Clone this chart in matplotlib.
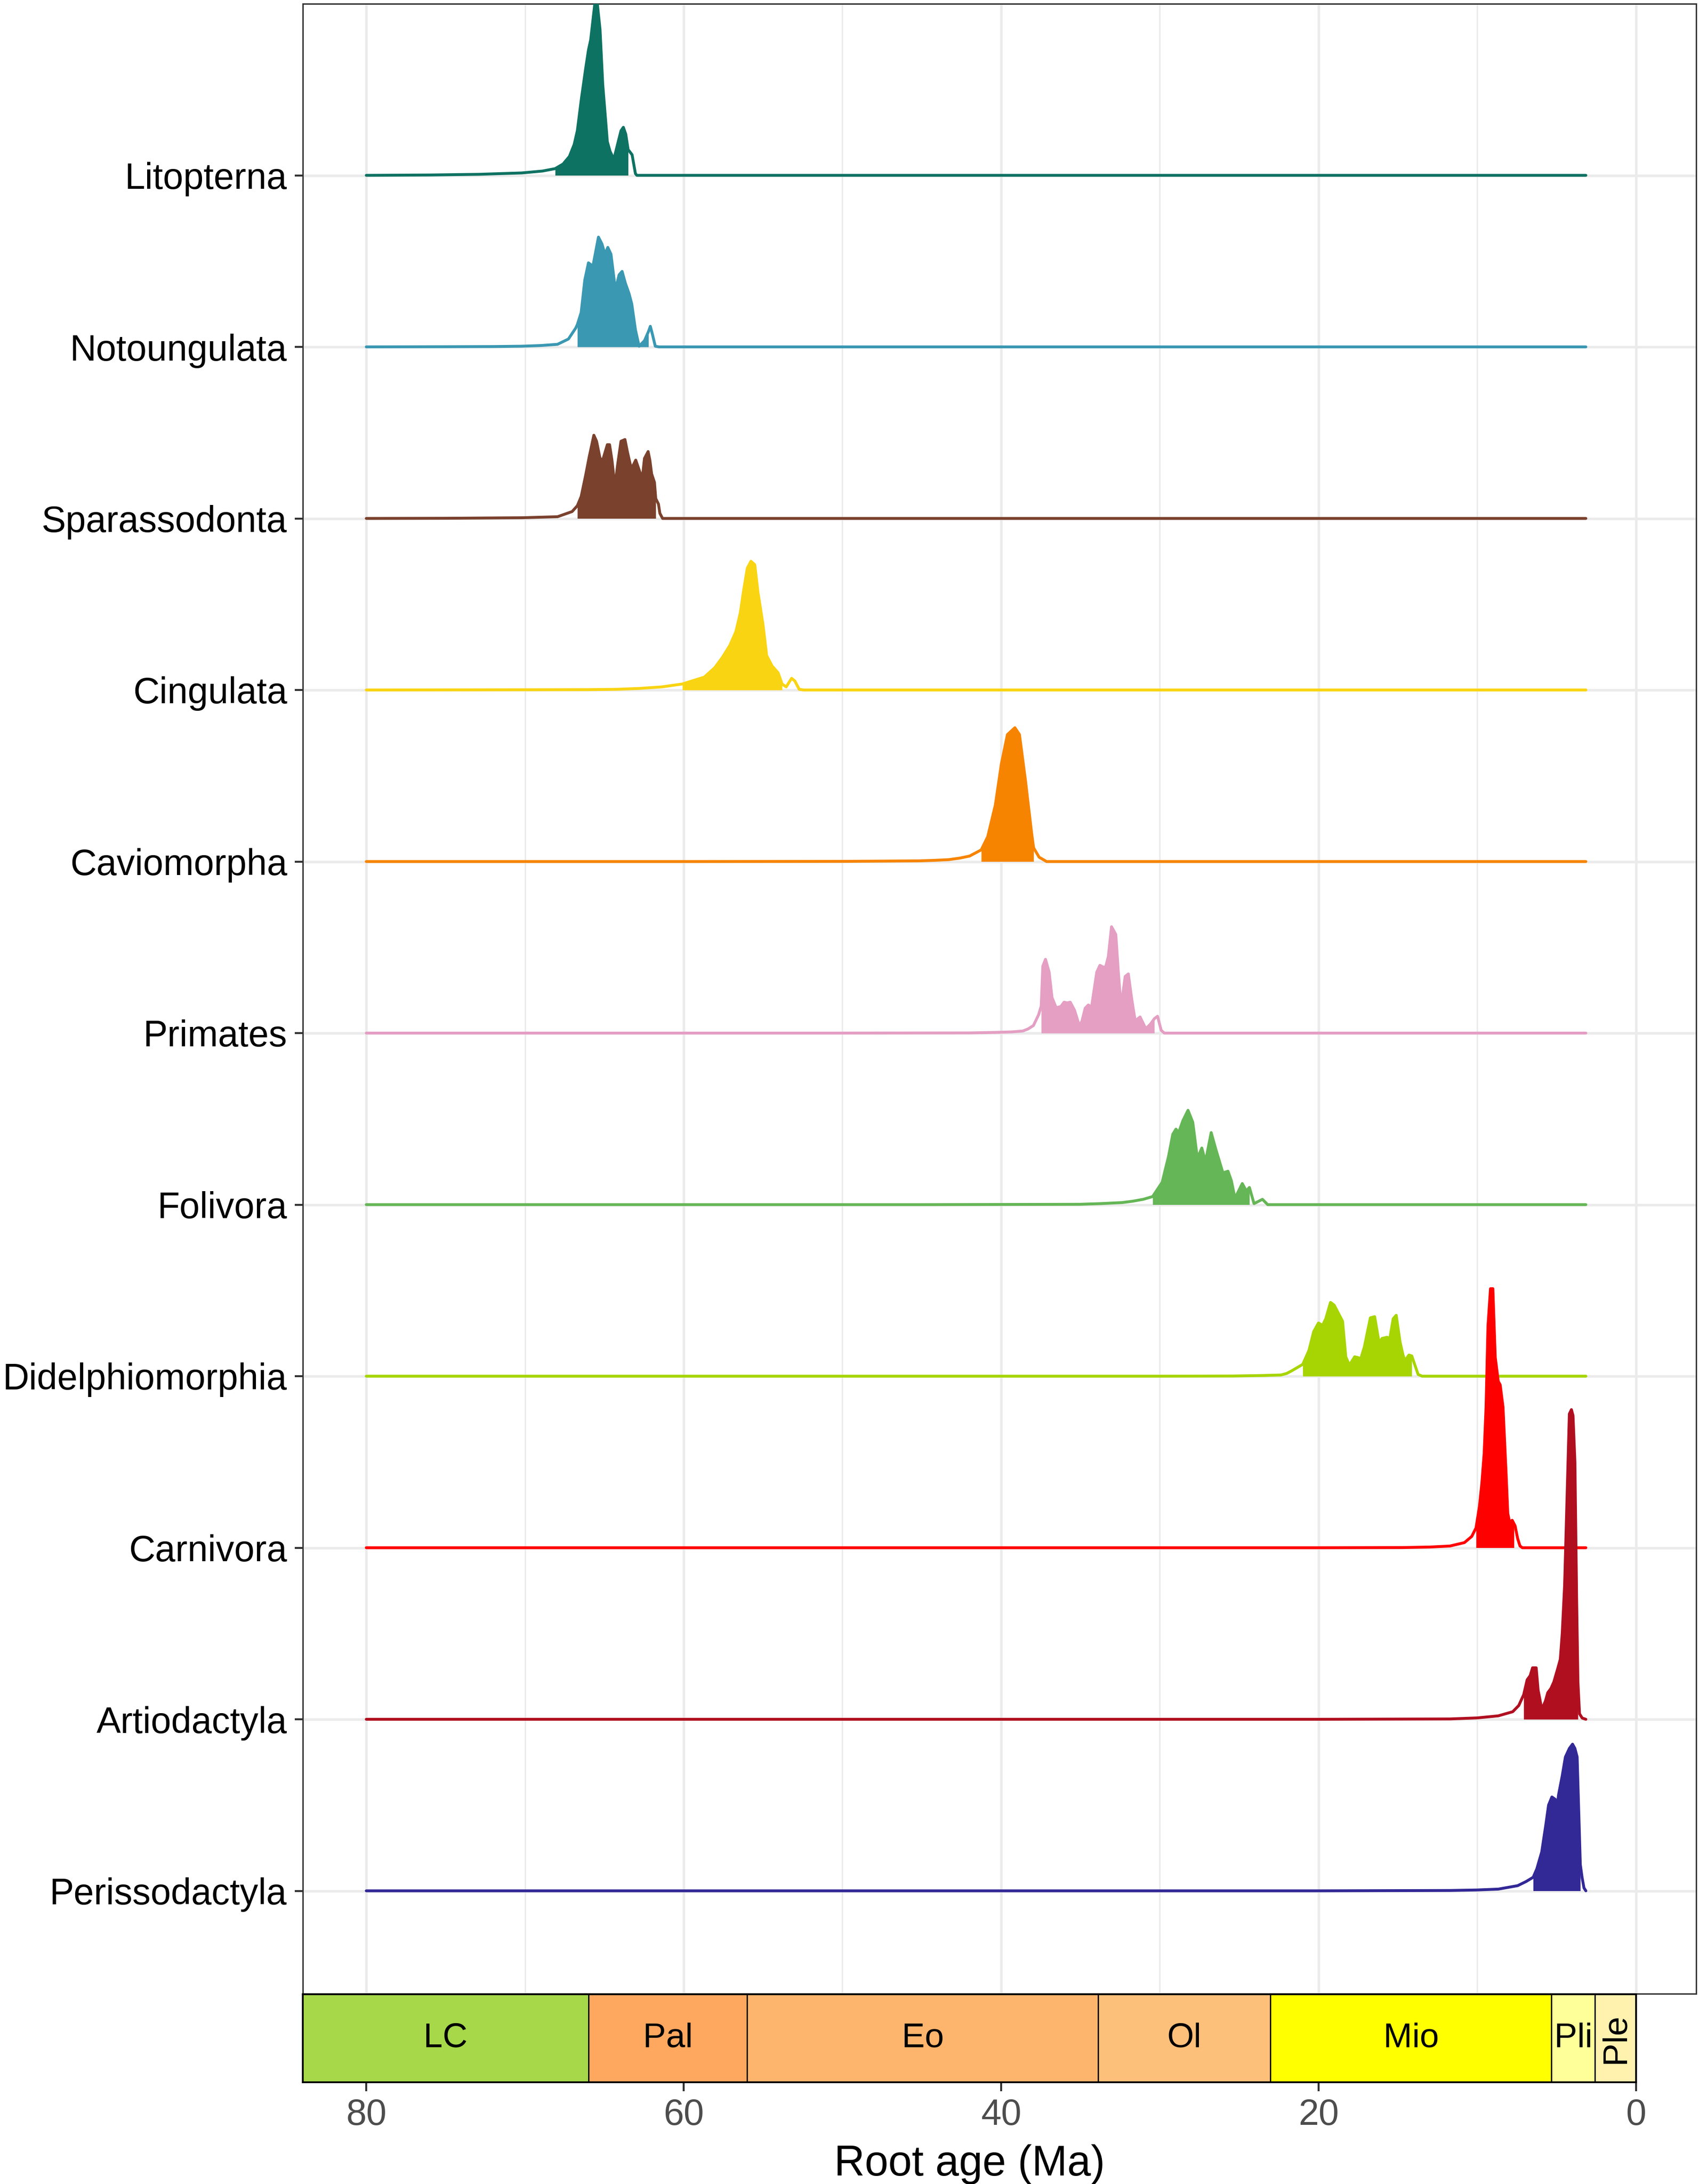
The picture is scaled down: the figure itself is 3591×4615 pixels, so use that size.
import numpy as np
import matplotlib
matplotlib.use('Agg')
import matplotlib.pyplot as plt
from matplotlib.patches import Rectangle

plt.rcParams['font.family'] = ['Liberation Sans', 'DejaVu Sans']

# taxa, top row first
taxa = ['Litopterna', 'Notoungulata', 'Sparassodonta', 'Cingulata', 'Caviomorpha',
        'Primates', 'Folivora', 'Didelphiomorphia', 'Carnivora', 'Artiodactyla',
        'Perissodactyla']
colors = ['#0E7262', '#3A98B2', '#7A412D', '#F9D412', '#F78400', '#E49FC3',
          '#65B656', '#A7D503', '#FF0000', '#B00F20', '#322896']

# root age density profiles (age in Ma, height in row units)
litopterna_age = [80, 76, 72.9, 70.2, 68.9, 68.1, 67.6, 67.2, 66.9, 66.7, 66.44, 66.18, 66.0,
                  65.86, 65.6, 65.44, 65.27, 65.1, 64.81, 64.64, 64.4, 64.18, 63.95, 63.8,
                  63.65, 63.5, 63.25, 63.04, 62.95, 3.15]
litopterna_h = [0, 0.002, 0.006, 0.014, 0.025, 0.039, 0.066, 0.11, 0.18, 0.26, 0.45, 0.62, 0.73,
                0.79, 1.0, 1.0, 0.85, 0.53, 0.196, 0.14, 0.094, 0.175, 0.26, 0.28,
                0.24, 0.15, 0.12, 0.01, 0, 0]

notoungulata_age = [80, 75, 72, 70.2, 69, 67.95, 67.26, 66.8, 66.7, 66.46, 66.23, 66.0, 65.72,
                    65.37, 65.15, 64.96, 64.78, 64.58, 64.3, 64.07, 63.88, 63.67, 63.44,
                    63.27, 63.04, 62.81, 62.47, 62.22, 62.1, 61.96, 61.79, 61.56, 3.15]
notoungulata_h = [0, 0.001, 0.002, 0.004, 0.008, 0.015, 0.046, 0.11, 0.13, 0.2, 0.39, 0.49,
                  0.47, 0.64, 0.6, 0.54, 0.58, 0.54, 0.33, 0.42, 0.44, 0.37, 0.31,
                  0.25, 0.10, 0.004, 0.036, 0.089, 0.12, 0.07, 0.004, 0, 0]

sparassodonta_age = [80, 75, 70.2, 67.95, 67.03, 66.7, 66.46, 66.18, 65.95, 65.66, 65.49,
                     65.27, 65.1, 64.81, 64.67, 64.52, 64.33, 64.18, 63.95, 63.7, 63.55,
                     63.33, 63.18, 63.02, 62.76, 62.61, 62.47, 62.24, 62.13, 62.02, 61.84,
                     61.76, 61.59, 61.5, 61.33, 3.15]
sparassodonta_h = [0, 0.001, 0.004, 0.01, 0.04, 0.074, 0.127, 0.25, 0.36, 0.485, 0.45,
                   0.35, 0.34, 0.43, 0.43, 0.34, 0.18, 0.3, 0.45, 0.46, 0.39,
                   0.30, 0.31, 0.34, 0.27, 0.23, 0.35, 0.39, 0.34, 0.26, 0.21,
                   0.116, 0.084, 0.03, 0, 0]

cingulata_age = [80, 72, 66, 64.22, 62.8, 61.37, 60.08, 58.7, 58.04, 57.56, 57.09, 56.71,
                 56.43, 56.24, 55.99, 55.76, 55.52, 55.32, 55.0, 54.77, 54.43, 54.05, 53.8,
                 53.54, 53.2, 53.0, 52.72, 52.43, 3.15]
cingulata_h = [0, 0.001, 0.002, 0.004, 0.009, 0.018, 0.035, 0.075, 0.13, 0.19, 0.26, 0.34,
               0.45, 0.57, 0.71, 0.75, 0.73, 0.57, 0.38, 0.20, 0.14, 0.10, 0.035,
               0.018, 0.068, 0.053, 0.004, 0, 0]

caviomorpha_age = [80, 60, 50, 45.2, 44.2, 43.3, 42.6, 41.98, 41.25, 40.84, 40.36, 39.98,
                   39.6, 39.13, 38.84, 38.46, 38.08, 37.95, 37.6, 37.13, 3.15]
caviomorpha_h = [0, 0, 0.001, 0.004, 0.007, 0.011, 0.02, 0.032, 0.068, 0.145, 0.33, 0.57,
                 0.74, 0.78, 0.74, 0.47, 0.17, 0.08, 0.025, 0, 0]

primates_age = [80, 50, 42, 40.36, 39.3, 38.63, 38.3, 37.96, 37.63, 37.47, 37.37, 37.2, 36.97,
                36.79, 36.53, 36.23, 36.03, 35.83, 35.64, 35.37, 35.06, 34.9, 34.7, 34.5,
                34.3, 33.97, 33.77, 33.57, 33.41, 33.24, 33.04, 32.77, 32.61, 32.44, 32.18,
                31.98, 31.78, 31.55, 31.24, 30.88, 30.58, 30.34, 30.14, 29.91, 29.71, 3.15]
primates_h = [0, 0, 0.001, 0.004, 0.007, 0.012, 0.024, 0.044, 0.108, 0.158, 0.39, 0.43, 0.355,
              0.207, 0.148, 0.155, 0.18, 0.176, 0.18, 0.133, 0.04, 0.071, 0.145, 0.164,
              0.151, 0.355, 0.395, 0.385, 0.385, 0.447, 0.62, 0.575, 0.355, 0.151, 0.33,
              0.345, 0.207, 0.071, 0.094, 0.025, 0.053, 0.084, 0.098, 0.016, 0, 0]

folivora_age = [80, 45, 35.04, 33.7, 32.38, 31.7, 31.04, 30.45, 29.85, 29.45, 29.18, 28.98,
                28.81, 28.54, 28.22, 27.92, 27.63, 27.35, 27.12, 26.76, 26.46, 26.02, 25.7,
                25.49, 25.26, 24.8, 24.55, 24.35, 24.06, 23.53, 23.2, 3.15]
folivora_h = [0, 0, 0.002, 0.006, 0.012, 0.02, 0.031, 0.047, 0.13, 0.28, 0.41, 0.44,
              0.42, 0.49, 0.55, 0.48, 0.27, 0.33, 0.25, 0.42, 0.32, 0.185, 0.195,
              0.14, 0.037, 0.123, 0.08, 0.1, 0.006, 0.031, 0, 0]

didelphiomorphia_age = [80, 30, 25.4, 23.5, 22.36, 22.0, 21.67, 20.99, 20.6, 20.3, 20.0,
                        19.74, 19.54, 19.24, 19.01, 18.48, 18.28, 18.05, 17.72, 17.49, 17.34,
                        17.11, 16.73, 16.46, 16.17, 16.0, 15.67, 15.51, 15.29, 15.1, 14.86,
                        14.68, 14.56, 14.3, 14.12, 13.92, 13.72, 13.46, 3.15]
didelphiomorphia_h = [0, 0, 0.001, 0.004, 0.007, 0.016, 0.032, 0.069, 0.15, 0.26, 0.31,
                      0.296, 0.335, 0.43, 0.414, 0.32, 0.113, 0.064, 0.113, 0.108, 0.10,
                      0.17, 0.34, 0.347, 0.19, 0.22, 0.227, 0.217, 0.335, 0.355, 0.2,
                      0.126, 0.09, 0.123, 0.118, 0.064, 0.01, 0, 0]

carnivora_age = [80, 20, 14.75, 13.0, 11.71, 10.8, 10.34, 10.07, 9.86, 9.71, 9.56, 9.44, 9.32,
                 9.16, 9.01, 8.86, 8.67, 8.55, 8.37, 8.17, 8.07, 7.96, 7.79, 7.68, 7.61,
                 7.45, 7.3, 7.15, 3.15]
carnivora_h = [0, 0, 0.001, 0.004, 0.01, 0.03, 0.066, 0.116, 0.24, 0.37, 0.55, 0.82, 1.29,
               1.51, 1.51, 1.11, 0.97, 0.95, 0.82, 0.42, 0.2, 0.15, 0.16, 0.14, 0.128,
               0.054, 0.01, 0, 0]

artiodactyla_age = [80, 20, 11.71, 10.0, 8.67, 7.76, 7.38, 7.07, 6.85, 6.66, 6.51, 6.28, 6.16,
                    6.05, 5.93, 5.7, 5.55, 5.35, 5.17, 4.94, 4.76, 4.64, 4.49, 4.34, 4.19,
                    4.06, 3.96, 3.84, 3.73, 3.65, 3.55, 3.38, 3.15]
artiodactyla_h = [0, 0, 0.002, 0.008, 0.02, 0.044, 0.08, 0.143, 0.23, 0.254, 0.30, 0.30, 0.17,
                  0.118, 0.057, 0.106, 0.155, 0.18, 0.217, 0.29, 0.35, 0.5, 0.78, 1.28, 1.78,
                  1.805, 1.77, 1.5, 0.685, 0.217, 0.032, 0.007, 0]

perissodactyla_age = [80, 20, 11.71, 10.0, 8.67, 7.45, 6.92, 6.47, 6.24, 5.93, 5.67, 5.5, 5.29,
                      5.09, 4.94, 4.87, 4.64, 4.44, 4.19, 3.99, 3.84, 3.7, 3.5, 3.39, 3.27,
                      3.15]
perissodactyla_h = [0, 0, 0.002, 0.005, 0.01, 0.03, 0.054, 0.079, 0.128, 0.227, 0.387, 0.5,
                    0.547, 0.534, 0.51, 0.56, 0.67, 0.78, 0.83, 0.855, 0.83, 0.78, 0.153,
                    0.079, 0.017, 0]

# shaded interval (older, younger) for each taxon
hdi = [(68.1, 63.5), (66.7, 62.22), (66.7, 61.76), (60.08, 53.8), (41.25, 37.95),
       (37.47, 30.34), (30.45, 24.35), (20.99, 14.12), (10.07, 7.68), (7.07, 3.65),
       (6.47, 3.5)]

ages = [litopterna_age, notoungulata_age, sparassodonta_age, cingulata_age, caviomorpha_age,
        primates_age, folivora_age, didelphiomorphia_age, carnivora_age, artiodactyla_age,
        perissodactyla_age]
heights = [litopterna_h, notoungulata_h, sparassodonta_h, cingulata_h, caviomorpha_h,
           primates_h, folivora_h, didelphiomorphia_h, carnivora_h, artiodactyla_h,
           perissodactyla_h]

# geological time scale
period_names = ['LC', 'Pal', 'Eo', 'Ol', 'Mio', 'Pli', 'Ple']
period_start = [100.5, 66.0, 56.0, 33.9, 23.03, 5.333, 2.58]
period_end = [66.0, 56.0, 33.9, 23.03, 5.333, 2.58, 0.0117]
period_colors = ['#A6D84A', '#FDA75F', '#FDB46C', '#FDC07A', '#FFFF00', '#FFFF99', '#FFF2AE']

W, H = 3591, 4615
fig = plt.figure(figsize=(W / 300, H / 300), dpi=300)
ax = fig.add_axes([640 / W, 1 - 4213 / H, (3585 - 640) / W, (4213 - 8) / H])
gax = fig.add_axes([640 / W, 1 - 4400 / H, (3458 - 640) / W, (4400 - 4214) / H])

n = len(taxa)
ax.set_xlim(84.0, -3.8)
ax.set_ylim(0.4, 12.0)

# grid
for v in [80, 60, 40, 20, 0]:
    ax.axvline(v, color='#EBEBEB', lw=1.3, zorder=0)
for v in [70, 50, 30, 10]:
    ax.axvline(v, color='#EBEBEB', lw=0.7, zorder=0)
for i in range(n):
    ax.axhline(n - i, color='#EBEBEB', lw=1.3, zorder=0)

for i, name in enumerate(taxa):
    base = n - i
    x = np.array(ages[i])
    y = base + np.array(heights[i])
    lo, hi = hdi[i]
    z = 2 + 2 * i
    ax.fill_between(x, base, y, where=(x <= lo + 1e-9) & (x >= hi - 1e-9),
                    color=colors[i], lw=0, zorder=z)
    ax.plot(x, y, color=colors[i], lw=1.45, solid_joinstyle='round',
            solid_capstyle='round', zorder=z + 1)

ax.set_yticks(range(n, 0, -1))
ax.set_yticklabels(taxa, fontsize=18.5, color='black')
ax.set_xticks([])
ax.tick_params(axis='y', length=4.2, width=1.0, color='#333333', pad=3.8)
for s in ax.spines.values():
    s.set_color('#333333')
    s.set_linewidth(0.7)

# time scale bar
gax.set_xlim(84.0, 0)
gax.set_ylim(0, 1)
for nm, s0, s1, c in zip(period_names, period_start, period_end, period_colors):
    gax.add_patch(Rectangle((s1, 0), s0 - s1, 1, facecolor=c, edgecolor='black', lw=0.6))
    mid = (min(s0, 84.0) + s1) / 2
    if nm == 'Ple':
        gax.text(mid, 0.5, nm, rotation=90, ha='center', va='center', fontsize=17.5)
    else:
        gax.text(mid, 0.5, nm, ha='center', va='center', fontsize=17.5)
gax.set_yticks([])
gax.set_xticks([80, 60, 40, 20, 0])
gax.tick_params(axis='x', length=4.5, width=1.0, color='#333333', pad=3.4,
                labelsize=18.5, labelcolor='#4D4D4D')
for s in gax.spines.values():
    s.set_color('black')
    s.set_linewidth(0.9)
gax.set_xlabel('Root age (Ma)', fontsize=21.5, labelpad=6)

fig.savefig('out.png', dpi=300)
